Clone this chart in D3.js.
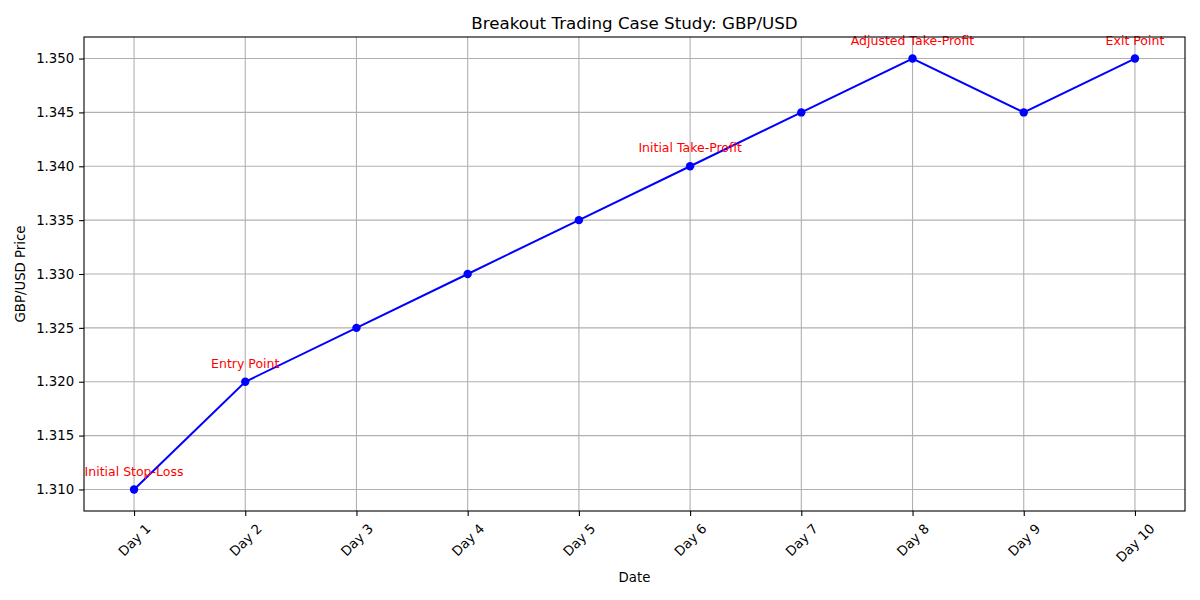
<!DOCTYPE html>
<html>
<head>
<meta charset="utf-8">
<script src="https://cdn.jsdelivr.net/npm/d3@7"></script>
<style>
  body { margin: 0; background: #fff; }
  svg { font-family: "DejaVu Sans", sans-serif; }
</style>
</head>
<body>
<svg width="1200" height="600"></svg>
<script>
// chart data
const days = ["Day 1", "Day 2", "Day 3", "Day 4", "Day 5", "Day 6", "Day 7", "Day 8", "Day 9", "Day 10"];
const prices = [1.310, 1.320, 1.325, 1.330, 1.335, 1.340, 1.345, 1.350, 1.345, 1.350];
const yTicks = [1.310, 1.315, 1.320, 1.325, 1.330, 1.335, 1.340, 1.345, 1.350];
const noteDays = ["Day 1", "Day 2", "Day 6", "Day 8", "Day 10"];
const noteTexts = ["Initial Stop-Loss", "Entry Point", "Initial Take-Profit", "Adjusted Take-Profit", "Exit Point"];

const width = 1200, height = 600;
const margin = {top: 37, right: 15, bottom: 89, left: 84};
const innerW = width - margin.left - margin.right;
const innerH = height - margin.top - margin.bottom;

const svg = d3.select("svg");
const g = svg.append("g").attr("transform", `translate(${margin.left},${margin.top})`);

const x = d3.scaleLinear().domain([-0.45, days.length - 1 + 0.45]).range([0, innerW]);
const y = d3.scaleLinear().domain([1.308, 1.352]).range([innerH, 0]);

// grid
g.append("g").selectAll("line").data(days).join("line")
    .attr("x1", (d, i) => x(i)).attr("x2", (d, i) => x(i))
    .attr("y1", 0).attr("y2", innerH)
    .attr("stroke", "#b0b0b0").attr("stroke-width", 1.1);
g.append("g").selectAll("line").data(yTicks).join("line")
    .attr("x1", 0).attr("x2", innerW)
    .attr("y1", d => y(d)).attr("y2", d => y(d))
    .attr("stroke", "#b0b0b0").attr("stroke-width", 1.1);

// y axis
const yAxis = g.append("g")
    .call(d3.axisLeft(y).tickValues(yTicks).tickFormat(d3.format(".3f")).tickSizeOuter(0).tickSize(4.9).tickPadding(4.9));
yAxis.select(".domain").remove();
yAxis.selectAll("line").attr("stroke", "#000").attr("stroke-width", 1.1);
yAxis.selectAll("text").attr("font-size", "13.3px").attr("fill", "#000")
    .attr("font-family", "DejaVu Sans");

// x axis
const xAxis = g.append("g").attr("transform", `translate(0,${innerH})`)
    .call(d3.axisBottom(x).tickValues(d3.range(days.length)).tickFormat(i => days[i]).tickSizeOuter(0).tickSize(4.9));
xAxis.select(".domain").remove();
xAxis.selectAll("line").attr("stroke", "#000").attr("stroke-width", 1.1);
xAxis.selectAll("text")
    .attr("font-size", "13.3px").attr("fill", "#000").attr("font-family", "DejaVu Sans")
    .attr("text-anchor", "middle").attr("dy", null)
    .attr("dominant-baseline", "central")
    .each(function() {
        const t = d3.select(this);
        const w = this.getComputedTextLength();
        const h = 15.5;
        const half = (w + h) * Math.SQRT1_2 / 2;
        const cy = 4.9 + 4.9 + half;
        t.attr("y", cy).attr("transform", `rotate(-45,0,${cy})`);
    });

// line + markers
const line = d3.line().x((d, i) => x(i)).y(d => y(d));
g.append("path").datum(prices)
    .attr("fill", "none").attr("stroke", "#0000ff").attr("stroke-width", 2)
    .attr("d", line);
g.append("g").selectAll("circle").data(prices).join("circle")
    .attr("cx", (d, i) => x(i)).attr("cy", d => y(d))
    .attr("r", 4.2).attr("fill", "#0000ff");

// annotations
g.append("g").selectAll("text").data(noteTexts).join("text")
    .attr("x", (d, i) => x(days.indexOf(noteDays[i])))
    .attr("y", (d, i) => y(prices[days.indexOf(noteDays[i])]) - 13.9)
    .attr("text-anchor", "middle")
    .attr("font-size", "12.5px").attr("fill", "#ff0000")
    .text(d => d);

// frame
g.append("rect").attr("width", innerW).attr("height", innerH)
    .attr("fill", "none").attr("stroke", "#000").attr("stroke-width", 1.1);

// titles
svg.append("text").attr("x", margin.left + innerW / 2).attr("y", 29)
    .attr("text-anchor", "middle").attr("font-size", "16.7px")
    .text("Breakout Trading Case Study: GBP/USD");
svg.append("text").attr("x", margin.left + innerW / 2).attr("y", 582)
    .attr("text-anchor", "middle").attr("font-size", "13.3px")
    .text("Date");
svg.append("text").attr("transform", `translate(25,${margin.top + innerH / 2}) rotate(-90)`)
    .attr("text-anchor", "middle").attr("font-size", "13.3px")
    .text("GBP/USD Price");
</script>
</body>
</html>
